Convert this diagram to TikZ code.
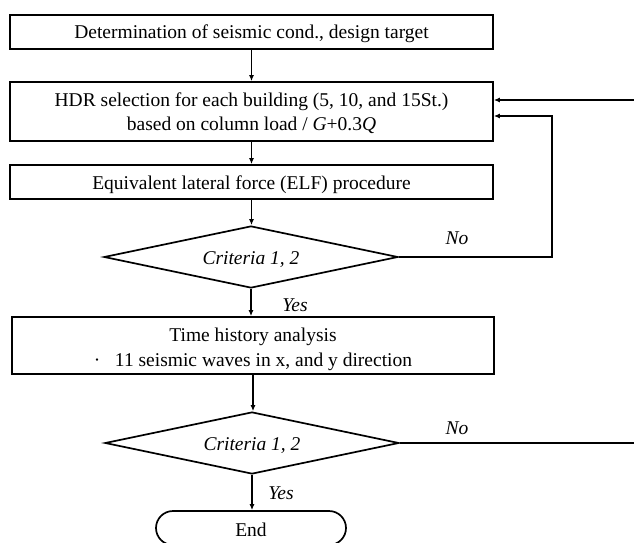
\documentclass[tikz,border=0pt]{standalone}
\usepackage{fontspec}
\setmainfont{Liberation Serif}
\usetikzlibrary{shapes.geometric,arrows.meta}
\newcommand{\topstrut}[1]{\rule{0pt}{#1}}
\newcommand{\botstrut}[1]{\rule[-#1]{0pt}{#1}}
\begin{document}
\begin{tikzpicture}[x=1pt,y=-1pt,
  txt/.style={font=\fontsize{19.5}{24}\selectfont},
  box/.style={txt,draw,line width=1.7pt,rectangle,inner sep=0pt,minimum width=483pt,align=center},
  one/.style={text height=18pt,text depth=4pt},
  dec/.style={txt,draw,line width=1.7pt,diamond,aspect=4.7,minimum width=294pt,minimum height=62pt,inner sep=0pt,text height=18pt,text depth=4pt,font=\fontsize{19.5}{23}\selectfont\itshape},
  term/.style={txt,draw,line width=1.7pt,rectangle,rounded corners=17pt,minimum width=190pt,minimum height=34pt,inner sep=0pt,text height=18pt,text depth=2pt},
  lab/.style={font=\fontsize{19.5}{23}\selectfont\itshape},
  arr/.style={line width=1.7pt,-{Latex[length=6pt,width=5pt]}},
  ln/.style={line width=1.7pt}]
\useasboundingbox (0,0) rectangle (634,543);
\fill[white] (0,0) rectangle (634,543);
\node[box,one,minimum height=34pt] (b1) at (251.5,32) {Determination of seismic cond., design target};
\node[box,minimum height=59pt] (b2) at (251.5,111.5) {\topstrut{17pt}HDR selection for each building (5, 10, and 15St.)\\based on column load / \textit{G}+0.3\textit{Q}\botstrut{4pt}};
\node[box,one,minimum height=34pt] (b3) at (251.5,182) {Equivalent lateral force (ELF) procedure};
\node[dec] (d1) at (251,257) {Criteria 1, 2};
\node[box,minimum width=482pt,minimum height=57pt,font=\fontsize{19.5}{25}\selectfont] (b4) at (253,345.5) {\topstrut{22pt}Time history analysis\\ ·\hspace{0.75em}11 seismic waves in x, and y direction\botstrut{4pt}};
\node[dec] (d2) at (252,443) {Criteria 1, 2};
\node[term] (e) at (251,528) {End};
\node[lab] (no1) at (457,238) {No};
\node[lab] (no2) at (457,428) {No};
\node[lab] (yes1) at (295,305) {Yes};
\node[lab] (yes2) at (281,493) {Yes};
\coordinate (k1) at (552,116);
\coordinate (r1) at (640,100);
\coordinate (r2) at (640,443);
\draw[arr] (b1.south) -- (b1.south |- b2.north);
\draw[arr] (b2.south) -- (b2.south |- b3.north);
\draw[arr] (b3.south) -- (b3.south |- d1.north);
\draw[arr] (d1.south) -- (d1.south |- b4.north);
\draw[arr] (b4.south) -- (b4.south |- d2.north);
\draw[arr] (d2.south) -- (d2.south |- e.north);
\draw[arr] (d1.east) -| (k1) -- (b2.east |- k1);
\draw[arr] (r1) -- (b2.east |- r1);
\draw[ln] (d2.east) -- (r2);
\end{tikzpicture}
\end{document}
